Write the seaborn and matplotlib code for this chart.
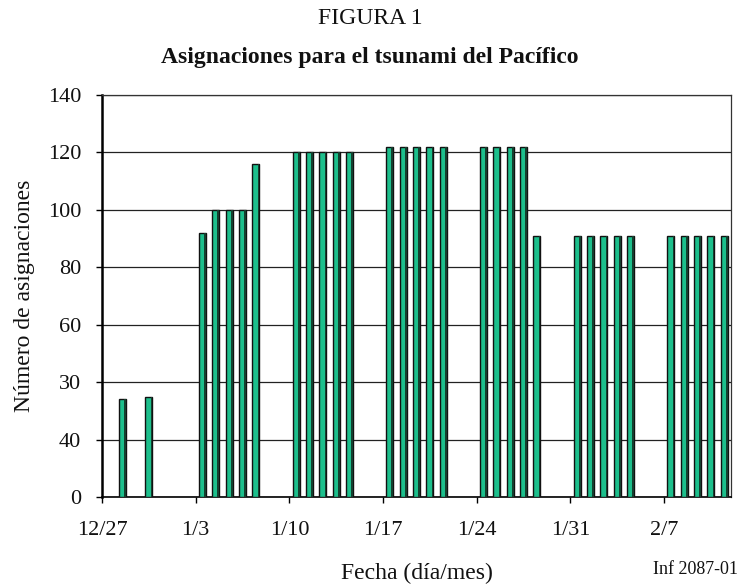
import numpy as np
import pandas as pd
import matplotlib
matplotlib.use("Agg")
import matplotlib.pyplot as plt
import seaborn as sns

# ---- data ----
day_offset = [1, 3,
              7, 8, 9, 10, 11,
              14, 15, 16, 17, 18,
              21, 22, 23, 24, 25,
              28, 29, 30, 31, 32,
              35, 36, 37, 38, 39,
              42, 43, 44, 45, 46]
asignaciones = [34, 35,
                92, 100, 100, 100, 116,
                120, 120, 120, 120, 120,
                122, 122, 122, 122, 122,
                122, 122, 122, 122, 91,
                91, 91, 91, 91, 91,
                91, 91, 91, 91, 91]
tick_days = [0, 7, 14, 21, 28, 35, 42]
tick_labels_x = ["12/27", "1/3", "1/10", "1/17", "1/24", "1/31", "2/7"]
ytick_values = [0, 20, 40, 60, 80, 100, 120, 140]
ytick_labels = ["0", "40", "30", "60", "80", "100", "120", "140"]
n_days = 47

df = pd.DataFrame({"dia": day_offset, "asignaciones": asignaciones})

sns.set_theme(style="white")
plt.rcParams["font.family"] = ["Liberation Serif", "DejaVu Serif"]

fig = plt.figure(figsize=(7.4, 5.86), dpi=100)
ax = fig.add_axes([102 / 740, 1 - 497 / 586, (731 - 102) / 740, (497 - 95) / 586])

green = "#1DBF8C"
dark = "#15402f"
bar_w = 0.52
side_w = 0.13

sns.barplot(data=df, x="dia", y="asignaciones", native_scale=True,
            color=green, saturation=1, width=bar_w,
            edgecolor="#111111", linewidth=1.0, ax=ax, zorder=3)
n_first = len(ax.patches)
sns.barplot(data=df, x="dia", y="asignaciones", native_scale=True,
            color=dark, saturation=1, width=side_w,
            edgecolor="none", linewidth=0, ax=ax, zorder=4)
for p in ax.patches[n_first:]:
    p.set_x(p.get_x() + (bar_w - side_w) / 2)

ax.set_xlim(-0.5, n_days - 0.5)
ax.set_ylim(0, 140)
ax.set_xticks([d - 0.5 for d in tick_days])
ax.set_xticklabels(tick_labels_x)
ax.set_yticks(ytick_values)
ax.set_yticklabels(ytick_labels)

ax.set_axisbelow(True)
ax.yaxis.grid(True, color="#222222", linewidth=0.9)
ax.xaxis.grid(False)

for side in ["top", "right", "bottom"]:
    ax.spines[side].set_visible(True)
    ax.spines[side].set_color("#333333")
    ax.spines[side].set_linewidth(0.9)
ax.spines["left"].set_color("black")
ax.spines["left"].set_linewidth(1.8)
ax.spines["bottom"].set_color("black")
ax.spines["bottom"].set_linewidth(1.2)

ax.tick_params(axis="both", which="major", direction="out", length=4,
               width=1.0, color="black", labelsize=16, labelcolor="#111111",
               bottom=True, left=True)
ax.tick_params(axis="y", pad=11)
ax.tick_params(axis="x", pad=13)

ax.set_xlabel("Fecha (día/mes)", fontsize=17, color="#111111", labelpad=17)
ax.set_ylabel("Número de asignaciones", fontsize=17, color="#111111", labelpad=9)

fig.text(0.5, 1 - 18 / 586, "FIGURA 1", ha="center", va="center",
         fontsize=17, color="#111111")
fig.text(0.5, 1 - 57 / 586, "Asignaciones para el tsunami del Pacífico",
         ha="center", va="center", fontsize=17, fontweight="bold", color="#111111")
fig.text(653 / 740, 1 - 570 / 586, "Inf 2087-01", ha="left", va="center",
         fontsize=13, color="#111111")

fig.savefig("out.png", dpi=100, facecolor="white")
